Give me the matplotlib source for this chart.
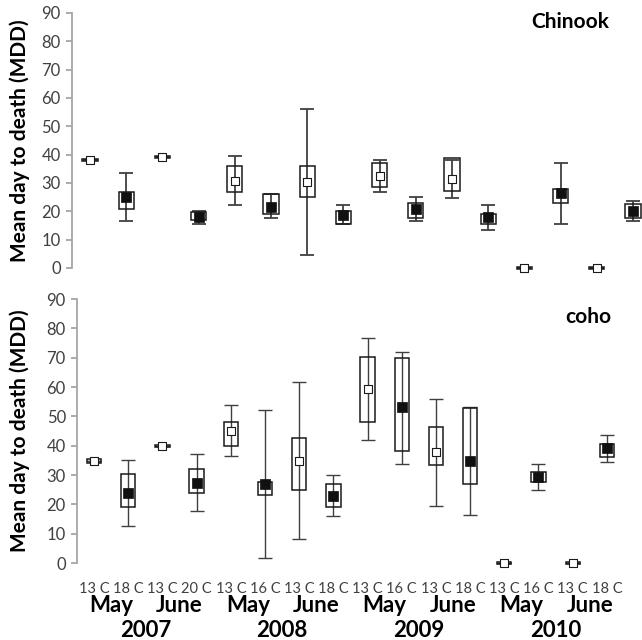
import matplotlib
matplotlib.use("Agg")
import matplotlib.pyplot as plt
import numpy as np

plt.rcParams['font.family'] = ['Lato', 'DejaVu Sans']

temps = ["13 C", "18 C", "13 C", "20 C", "13 C", "16 C", "13 C", "18 C",
         "13 C", "16 C", "13 C", "18 C", "13 C", "16 C", "13 C", "18 C"]
months = ["May", "June", "May", "June", "May", "June", "May", "June"]
years = ["2007", "2008", "2009", "2010"]

# Chinook: mean, box low/high, whisker low/high
ch_mean = [38.0, 25.2, 39.1, 18.0, 30.7, 21.6, 30.2, 18.7,
           32.5, 20.8, 31.4, 17.9, 0.0, 26.4, 0.0, 20.2]
ch_q1 = [37.7, 20.8, 38.8, 16.8, 26.7, 19.0, 25.0, 15.4,
         28.7, 17.5, 27.2, 15.5, -0.3, 22.8, -0.3, 17.8]
ch_q3 = [38.3, 26.8, 39.4, 19.6, 36.1, 26.0, 36.1, 20.1,
         37.0, 23.1, 38.9, 19.0, 0.3, 27.9, 0.3, 22.5]
ch_lo = [38.0, 16.7, 39.1, 15.5, 22.2, 17.5, 4.5, 15.5,
         26.7, 16.7, 24.6, 13.4, 0.0, 15.5, 0.0, 16.7]
ch_hi = [38.0, 33.6, 39.1, 20.2, 39.4, 26.0, 56.2, 22.4,
         38.0, 25.0, 38.0, 22.2, 0.0, 37.1, 0.0, 23.8]

# coho
co_mean = [34.9, 23.8, 40.0, 27.4, 45.0, 26.8, 34.8, 22.8,
           59.2, 53.1, 37.8, 34.9, 0.0, 29.3, 0.0, 39.1]
co_q1 = [34.2, 19.0, 39.7, 24.0, 39.9, 23.2, 24.9, 19.0,
         48.2, 38.3, 33.4, 26.9, -0.3, 27.6, -0.3, 36.0]
co_q3 = [35.6, 30.4, 40.3, 31.9, 48.2, 27.7, 42.7, 26.9,
         70.3, 69.8, 46.5, 52.7, 0.3, 30.9, 0.3, 40.7]
co_lo = [34.9, 12.5, 40.0, 17.7, 36.5, 1.8, 8.1, 15.9,
         41.8, 33.6, 19.3, 16.3, 0.0, 24.9, 0.0, 34.3]
co_hi = [34.9, 35.1, 40.0, 37.1, 53.8, 52.1, 61.6, 29.9,
         76.6, 72.0, 56.0, 53.3, 0.0, 33.6, 0.0, 43.6]

x = np.arange(len(temps))
open_pts = np.array([t == "13 C" for t in temps])

fig = plt.figure(figsize=(6.42, 6.40), dpi=100)
ax1 = fig.add_axes([0.1121, 0.5813, 0.8879, 0.3984])
ax2 = fig.add_axes([0.1199, 0.1203, 0.8520, 0.4125])

grey = "#404040"


def draw(ax, mean, q1, q3, lo, hi, lw):
    mean = np.array(mean)
    q1 = np.array(q1)
    q3 = np.array(q3)
    eb = ax.errorbar(x, mean, yerr=[mean - np.array(lo), np.array(hi) - mean],
                     fmt="none", ecolor=grey, elinewidth=lw, capsize=4.7,
                     capthick=lw, zorder=2)
    for part in eb.lines[1] + eb.lines[2]:
        part.set_clip_on(False)
    bars = ax.bar(x, q3 - q1, bottom=q1, width=0.42, facecolor="none",
                  edgecolor="#1a1a1a", linewidth=1.1, zorder=3)
    for b in bars:
        b.set_clip_on(False)
    ax.scatter(x[open_pts], mean[open_pts], marker="s", s=30,
               facecolor="white", edgecolor="#1a1a1a", linewidth=0.8,
               zorder=4, clip_on=False)
    ax.scatter(x[~open_pts], mean[~open_pts], marker="s", s=42,
               facecolor="#111111", edgecolor="#111111", linewidth=0.5,
               zorder=4, clip_on=False)
    ax.set_ylim(0, 90)
    ax.set_yticks(np.arange(0, 91, 10))
    for s in ["top", "right", "bottom"]:
        ax.spines[s].set_visible(False)
    ax.spines["left"].set_color("#a6a6a6")
    ax.spines["left"].set_linewidth(1.3)
    ax.tick_params(axis="y", direction="out", length=4, color="#a6a6a6",
                   width=1.3, labelsize=12, labelcolor=grey, pad=4)
    ax.set_ylabel("Mean day to death (MDD)", fontsize=15, fontweight="bold",
                  color="black", labelpad=4)


draw(ax1, ch_mean, ch_q1, ch_q3, ch_lo, ch_hi, 1.3)
draw(ax2, co_mean, co_q1, co_q3, co_lo, co_hi, 1.0)

ax1.set_xlim(-0.5, 15.25)
ax1.set_xticks([])
ax2.set_xlim(-0.5, 15.5)
ax2.set_xticks(x)
ax2.set_xticklabels(temps, fontsize=10.5, color=grey)
ax2.tick_params(axis="x", length=0, pad=14)

ax1.yaxis.set_label_coords(-0.073, 0.5)
ax2.yaxis.set_label_coords(-0.086, 0.5)

ax1.text(0.875, 0.965, "Chinook", transform=ax1.transAxes, ha="center",
         va="center", fontsize=15, fontweight="bold")
ax2.text(0.935, 0.93, "coho", transform=ax2.transAxes, ha="center",
         va="center", fontsize=15, fontweight="bold")

tr = ax2.get_xaxis_transform()
for i, m in enumerate(months):
    ax2.text(2 * i + 0.5, -0.161, m, transform=tr, ha="center", va="center",
             fontsize=16, fontweight="bold")
for i, yr in enumerate(years):
    ax2.text(4 * i + 1.5, -0.256, yr, transform=tr, ha="center", va="center",
             fontsize=16, fontweight="bold")

fig.savefig("out.png", dpi=100)
